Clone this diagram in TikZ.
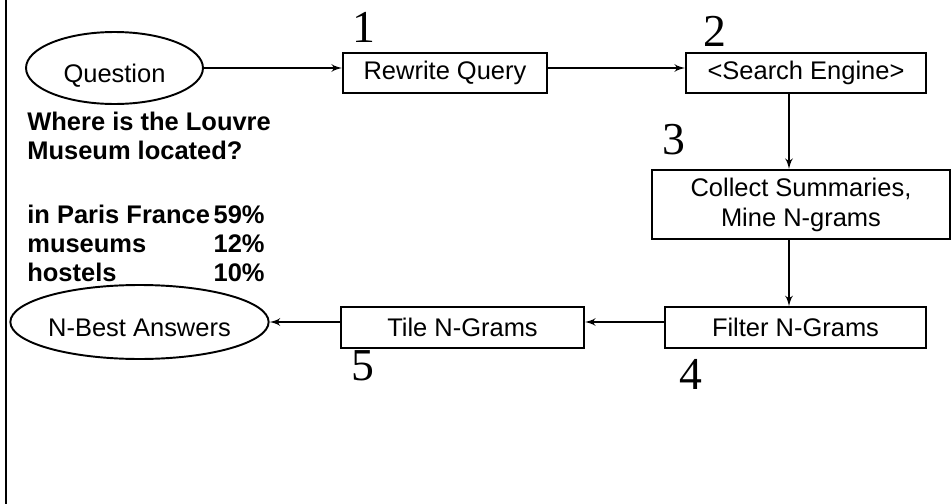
\documentclass[tikz,border=0pt]{standalone}
\usepackage{fontspec}
\setmainfont{Liberation Sans}
\newfontfamily\numfont{Liberation Serif}
\usetikzlibrary{%
    shapes.geometric,%
    arrows
}

\begin{document}
\begin{tikzpicture}[x=0.02cm,y=-0.02cm,
  every node/.style={font=\fontsize{14.5}{17}\selectfont},
  stage/.style={draw,line width=1.1pt,inner sep=0pt,minimum height=0.81cm},
  io/.style={draw,ellipse,line width=1.1pt,inner sep=0pt,text height=16pt,text depth=0pt},
  num/.style={font=\numfont\fontsize{26}{26}\selectfont,inner sep=0pt},
  ans/.style={font=\bfseries\fontsize{14.5}{17}\selectfont,inner sep=0pt},
  flow/.style={->,line width=1.1pt,>=latex'}]
\useasboundingbox (0,0) rectangle (951,504);
\draw[line width=1.4pt] (6,0)--(6,504);

\node[io,minimum width=3.54cm,minimum height=1.44cm] (q) at (114.5,68) {Question};
\node[stage,minimum width=4.08cm] (rq) at (445,73) {Rewrite Query};
\node[stage,minimum width=4.8cm] (se) at (806,73) {<Search Engine>};
\node[stage,minimum width=5.96cm,minimum height=1.38cm,align=center] (cs) at (801,204.5) {Collect Summaries,\\Mine N-grams};
\node[stage,minimum width=5.22cm] (fg) at (795.5,327.5) {Filter N-Grams};
\node[stage,minimum width=4.86cm] (tg) at (462.5,327.5) {Tile N-Grams};
\node[io,minimum width=4.94cm,minimum height=1.48cm] (nb) at (139.5,322) {N-Best Answers};

% step numbers
\node[num] (n1) at (363.5,27.5) {1};
\node[num] (n2) at (714.5,31) {2};
\node[num] (n3) at (674,140) {3};
\node[num] (n4) at (691,374) {4};
\node[num] (n5) at (363,366) {5};

% question and answers
\node[ans,anchor=base west] (w1) at (27,130) {Where is the Louvre};
\node[ans,anchor=base west] (w2) at (27,159) {Museum located?};
\foreach \w/\p/\y in {in Paris France/59\%/223,museums/12\%/252,hostels/10\%/281}{
  \node[ans,anchor=base west] (a\y) at (27,\y) {\w};
  \node[ans,anchor=base east] (p\y) at (265,\y) {\p};
}

\coordinate (c) at (789,0);
\draw[flow] (q.east) -- (q.east -| rq.west);
\draw[flow] (rq.east |- q.east) -- (q.east -| se.west);
\draw[flow] (se.south -| c) -- (cs.north -| c);
\draw[flow] (cs.south -| c) -- (fg.north -| c);
\draw[flow] (nb.east -| fg.west) -- (nb.east -| tg.east);
\draw[flow] (nb.east -| tg.west) -- (nb.east);
\end{tikzpicture}
\end{document}
